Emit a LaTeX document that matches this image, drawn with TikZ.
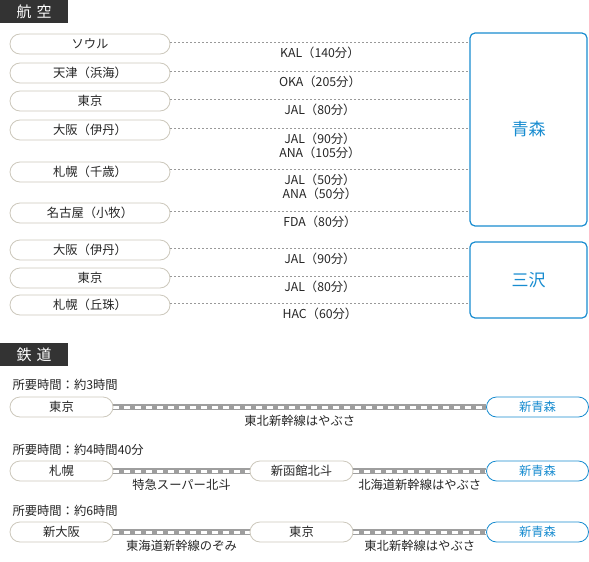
\documentclass[tikz,border=0pt]{standalone}
\usepackage{fontspec}
\setmainfont{Noto Sans CJK JP}
\usetikzlibrary{positioning, backgrounds}
\definecolor{cdark}{RGB}{51,51,51}
\definecolor{cblue}{RGB}{24,140,208}
\definecolor{cpill}{RGB}{204,200,188}
\definecolor{crail}{RGB}{158,158,158}
\definecolor{ctext}{RGB}{38,38,38}

\begin{document}
\begin{tikzpicture}[
  x=1pt, y=-1pt,
  font=\fontsize{12.3}{14}\selectfont, text=ctext,
  head/.style  = {rectangle, fill=cdark, text=white, anchor=north west,
                  minimum width=68pt, minimum height=23pt, inner sep=0pt,
                  font=\fontsize{15}{17}\selectfont},
  pill/.style  = {rectangle, rounded corners=10pt, draw=cpill, fill=white,
                  line width=0.8pt, minimum width=#1, minimum height=20pt,
                  inner sep=0pt},
  pill/.default = 160pt,
  dpill/.style = {pill=102pt, draw=cblue, text=cblue},
  city/.style  = {rectangle, rounded corners=5pt, draw=cblue, text=cblue,
                  line width=1.2pt, minimum width=117pt,
                  font=\fontsize{17}{20}\selectfont},
  route/.style = {draw=gray!80, line width=0.6pt, dash pattern=on 2pt off 2pt},
  lbl/.style   = {below=1pt, align=center},
  rlbl/.style  = {below=3pt},
  rail/.style  = {draw=white, line width=3pt, dash pattern=on 6pt off 5pt,
                  preaction={draw=crail, line width=5.5pt, solid}},
  note/.style  = {anchor=west},
]
\useasboundingbox (0,0) rectangle (589,562);
% Air: header and destinations
\node[head] (hair) at (0,0) {航\hspace{5pt}空};
\node[city, minimum height=193pt] (aomori) at (528.5,129.5) {青森};
\node[city, minimum height=76pt]  (misawa) at (528.5,280)   {三沢};
% Air: departures
\node[pill] (a1) at (90,44)  {ソウル};
\node[pill] (a2) at (90,73)  {天津（浜海）};
\node[pill] (a3) at (90,101) {東京};
\node[pill] (a4) at (90,130) {大阪（伊丹）};
\node[pill] (a5) at (90,172) {札幌（千歳）};
\node[pill] (a6) at (90,213) {名古屋（小牧）};
\node[pill] (a7) at (90,250) {大阪（伊丹）};
\node[pill] (a8) at (90,278) {東京};
\node[pill] (a9) at (90,305) {札幌（丘珠）};
% Air: routes
\draw[route] ([yshift=2pt]a1.east) -- ([yshift=2pt]a1.east -| aomori.west) node[midway, lbl] {KAL（140分）};
\draw[route] ([yshift=2pt]a2.east) -- ([yshift=2pt]a2.east -| aomori.west) node[midway, lbl] {OKA（205分）};
\draw[route] ([yshift=2pt]a3.east) -- ([yshift=2pt]a3.east -| aomori.west) node[midway, lbl] {JAL（80分）};
\draw[route] ([yshift=2pt]a4.east) -- ([yshift=2pt]a4.east -| aomori.west) node[midway, lbl] {JAL（90分）\\ANA（105分）};
\draw[route] ([yshift=3pt]a5.east) -- ([yshift=3pt]a5.east -| aomori.west) node[midway, lbl] {JAL（50分）\\ANA（50分）};
\draw[route] ([yshift=2pt]a6.east) -- ([yshift=2pt]a6.east -| aomori.west) node[midway, lbl] {FDA（80分）};
\draw[route] ([yshift=2pt]a7.east) -- ([yshift=2pt]a7.east -| misawa.west) node[midway, lbl] {JAL（90分）};
\draw[route] ([yshift=2pt]a8.east) -- ([yshift=2pt]a8.east -| misawa.west) node[midway, lbl] {JAL（80分）};
\draw[route] ([yshift=2pt]a9.east) -- ([yshift=2pt]a9.east -| misawa.west) node[midway, lbl] {HAC（60分）};
% Rail: header
\node[head] (hrail) at (0,343) {鉄\hspace{5pt}道};
% Rail row 1
\node[note] (t1) at (9,385) {所要時間：約3時間};
\node[pill=103pt] (r1a) at (61.5,407)  {東京};
\node[dpill]      (r1b) at (537.5,407) {新青森};
% Rail row 2
\node[note] (t2) at (9,450) {所要時間：約4時間40分};
\node[pill=103pt] (r2a) at (61.5,471)  {札幌};
\node[pill=103pt] (r2b) at (301.5,471) {新函館北斗};
\node[dpill]      (r2c) at (537.5,471) {新青森};
% Rail row 3
\node[note] (t3) at (9,511) {所要時間：約6時間};
\node[pill=103pt] (r3a) at (61.5,532)  {新大阪};
\node[pill=103pt] (r3b) at (301.5,532) {東京};
\node[dpill]      (r3c) at (537.5,532) {新青森};
% Rail lines
\begin{pgfonlayer}{background}
  \draw[rail] (r1a.east) -- node[rlbl]{東北新幹線はやぶさ} (r1b.west);
  \draw[rail] (r2a.east) -- node[rlbl]{特急スーパー北斗} (r2b.west);
  \draw[rail] (r2b.east) -- node[rlbl]{北海道新幹線はやぶさ} (r2c.west);
  \draw[rail] (r3a.east) -- node[rlbl]{東海道新幹線のぞみ} (r3b.west);
  \draw[rail] (r3b.east) -- node[rlbl]{東北新幹線はやぶさ} (r3c.west);
\end{pgfonlayer}
\end{tikzpicture}
\end{document}
